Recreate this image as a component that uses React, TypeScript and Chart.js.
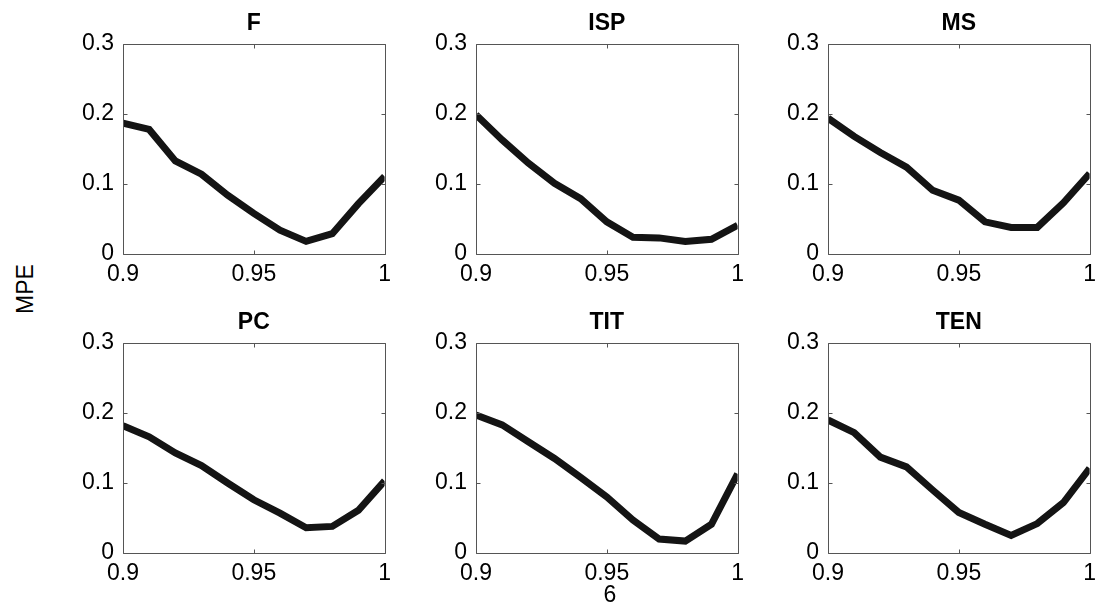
import React, { useEffect, useRef } from "react";
import { Chart, registerables } from "chart.js";

Chart.register(...registerables);

const X_VALUES = [0.9, 0.91, 0.92, 0.93, 0.94, 0.95, 0.96, 0.97, 0.98, 0.99, 1.0];
const F_MPE = [0.187, 0.178, 0.133, 0.114, 0.084, 0.058, 0.034, 0.018, 0.029, 0.072, 0.111];
const ISP_MPE = [0.199, 0.163, 0.13, 0.101, 0.079, 0.046, 0.024, 0.023, 0.018, 0.021, 0.041];
const MS_MPE = [0.194, 0.168, 0.145, 0.124, 0.091, 0.077, 0.046, 0.038, 0.038, 0.073, 0.115];
const PC_MPE = [0.182, 0.166, 0.143, 0.125, 0.1, 0.076, 0.057, 0.036, 0.038, 0.061, 0.103];
const TIT_MPE = [0.197, 0.183, 0.159, 0.135, 0.108, 0.08, 0.047, 0.02, 0.017, 0.041, 0.113];
const TEN_MPE = [0.19, 0.172, 0.137, 0.123, 0.09, 0.058, 0.041, 0.025, 0.042, 0.072, 0.121];

const PANEL_TITLES = ["F", "ISP", "MS", "PC", "TIT", "TEN"];
const PANEL_SERIES = [F_MPE, ISP_MPE, MS_MPE, PC_MPE, TIT_MPE, TEN_MPE];
const Y_TICKS = [0, 0.1, 0.2, 0.3];
const X_TICKS = [0.9, 0.95, 1];
const Y_LABEL = "MPE";
const X_LABEL = "6";

const FONT = '"Liberation Sans", Arial, Helvetica, sans-serif';
const FONT_SIZE = 23;
const PLOT_W = 267;
const PLOT_H = 210;
const COL_LEFTS = [123, 476, 828];
const ROW_TOPS = [44, 343];
const Y_AXIS_W = 75;
const X_AXIS_H = 45;
const PAD_TOP = 40;
const PAD_RIGHT = 8;

const boxPlugin = {
  id: "matlabBox",
  afterDraw(chart: any) {
    const ctx = chart.ctx;
    const { left, right, top, bottom } = chart.chartArea;
    const xs = chart.scales.x;
    const ys = chart.scales.y;
    ctx.save();
    ctx.strokeStyle = "#555555";
    ctx.lineWidth = 1;
    const l = Math.round(left) + 0.5;
    const r = Math.round(right) + 0.5;
    const t = Math.round(top) + 0.5;
    const b = Math.round(bottom) + 0.5;
    ctx.beginPath();
    ctx.rect(l, t, r - l, b - t);
    Y_TICKS.forEach((v) => {
      const y = Math.round(ys.getPixelForValue(v)) + 0.5;
      ctx.moveTo(l, y);
      ctx.lineTo(l + 4, y);
      ctx.moveTo(r, y);
      ctx.lineTo(r - 4, y);
    });
    X_TICKS.forEach((v) => {
      const x = Math.round(xs.getPixelForValue(v)) + 0.5;
      ctx.moveTo(x, b);
      ctx.lineTo(x, b - 4);
      ctx.moveTo(x, t);
      ctx.lineTo(x, t + 4);
    });
    ctx.stroke();
    const title = chart.options.plugins.panelTitle?.text;
    if (title) {
      ctx.fillStyle = "#000000";
      ctx.font = `bold ${FONT_SIZE}px ${FONT}`;
      ctx.textAlign = "center";
      ctx.textBaseline = "alphabetic";
      ctx.fillText(title, (left + right) / 2, top - 14);
    }
    ctx.restore();
  },
};

function Panel({ title, values, left, top }: { title: string; values: number[]; left: number; top: number }) {
  const ref = useRef<HTMLCanvasElement | null>(null);
  useEffect(() => {
    if (!ref.current) return;
    const chart = new Chart(ref.current, {
      type: "line",
      data: {
        datasets: [
          {
            data: X_VALUES.map((x, i) => ({ x, y: values[i] })),
            borderColor: "#141414",
            borderWidth: 7,
            borderJoinStyle: "miter",
            borderCapStyle: "butt",
            pointRadius: 0,
            tension: 0,
            fill: false,
          },
        ],
      },
      options: {
        animation: false,
        responsive: false,
        maintainAspectRatio: false,
        layout: { padding: { top: PAD_TOP, right: PAD_RIGHT, left: 0, bottom: 0 } },
        plugins: {
          legend: { display: false },
          tooltip: { enabled: false },
          title: { display: false },
          panelTitle: { text: title },
        } as any,
        scales: {
          x: {
            type: "linear",
            min: 0.9,
            max: 1,
            grid: { display: false, drawTicks: false },
            border: { display: false },
            afterBuildTicks: (scale: any) => {
              scale.ticks = X_TICKS.map((v) => ({ value: v }));
            },
            afterFit: (scale: any) => {
              scale.height = X_AXIS_H;
            },
            ticks: {
              padding: 7,
              maxRotation: 0,
              autoSkip: false,
              color: "#000000",
              font: { family: FONT, size: FONT_SIZE },
              callback: (v: any) => String(Number(Number(v).toFixed(2))),
            },
          },
          y: {
            type: "linear",
            min: 0,
            max: 0.3,
            grid: { display: false, drawTicks: false },
            border: { display: false },
            afterBuildTicks: (scale: any) => {
              scale.ticks = Y_TICKS.map((v) => ({ value: v }));
            },
            afterFit: (scale: any) => {
              scale.width = Y_AXIS_W;
            },
            ticks: {
              padding: 9,
              autoSkip: false,
              color: "#000000",
              font: { family: FONT, size: FONT_SIZE },
              callback: (v: any) => String(Number(Number(v).toFixed(2))),
            },
          },
        },
      } as any,
      plugins: [boxPlugin],
    });
    return () => chart.destroy();
  }, [title, values]);

  const w = Y_AXIS_W + PLOT_W + PAD_RIGHT;
  const h = PAD_TOP + PLOT_H + X_AXIS_H;
  return (
    <canvas
      ref={ref}
      width={w}
      height={h}
      style={{ position: "absolute", left: left - Y_AXIS_W, top: top - PAD_TOP, width: w, height: h }}
    />
  );
}

export default function App() {
  return (
    <div
      style={{
        position: "absolute",
        left: 0,
        top: 0,
        width: 1104,
        height: 604,
        overflow: "hidden",
        background: "#ffffff",
        fontFamily: FONT,
      }}
    >
      {PANEL_TITLES.map((t, i) => (
        <Panel
          key={t}
          title={t}
          values={PANEL_SERIES[i]}
          left={COL_LEFTS[i % 3]}
          top={ROW_TOPS[Math.floor(i / 3)]}
        />
      ))}
      <div
        style={{
          position: "absolute",
          left: 25,
          top: 289,
          transform: "translate(-50%, -50%) rotate(-90deg)",
          fontSize: FONT_SIZE,
          color: "#000",
          whiteSpace: "nowrap",
          lineHeight: 1,
        }}
      >
        {Y_LABEL}
      </div>
      <div
        style={{
          position: "absolute",
          left: 610,
          top: 594,
          transform: "translate(-50%, -50%)",
          fontSize: FONT_SIZE,
          color: "#000",
          whiteSpace: "nowrap",
          lineHeight: 1,
        }}
      >
        {X_LABEL}
      </div>
    </div>
  );
}
